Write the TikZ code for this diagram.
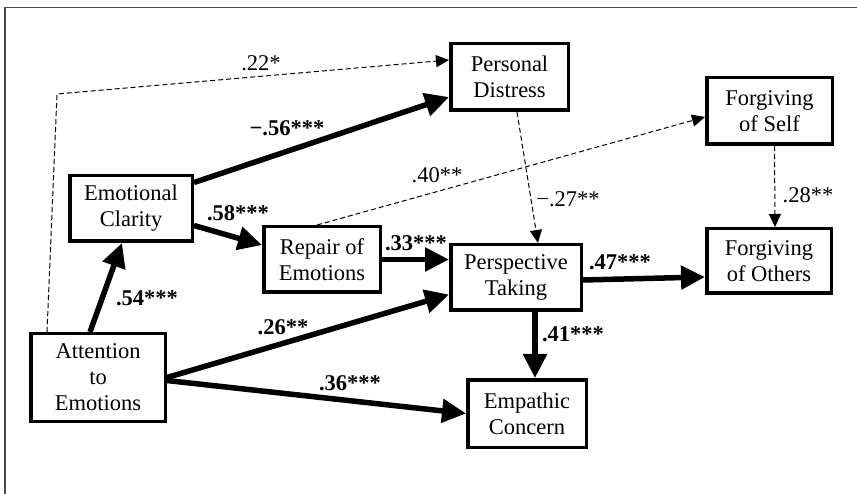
\documentclass[tikz,border=0pt]{standalone}
\usepackage{fontspec}
\setmainfont{Liberation Serif}
\usetikzlibrary{arrows.meta}

\begin{document}
\begin{tikzpicture}[x=1pt, y=-1pt,
  box/.style={draw, line width=3.5pt, align=center, inner sep=0pt,
    font=\fontsize{22.5}{26}\selectfont},
  strong/.style={line width=5.5pt, -{Triangle[length=24pt,width=23pt]}},
  weak/.style={line width=1pt, dash pattern=on 5pt off 3pt,
    -{Triangle[length=13pt,width=12pt]}},
  lbl/.style={inner sep=0pt, font=\fontsize{22.5}{26}\selectfont}]
  \useasboundingbox (0,0) rectangle (857,494);
  % frame, only top and left show
  \draw[line width=1.5pt, black!70] (857,7.5) -- (5,7.5) -- (5,494);

  \node[box, minimum width=117.5, minimum height=66.5] (pd) at (509.5,77) {Personal\\Distress};
  \node[box, minimum width=125.5, minimum height=66.5] (fs) at (769.5,111) {Forgiving\\of Self};
  \node[box, minimum width=122.5, minimum height=65.5] (cl) at (131,208.5) {Emotional\\Clarity};
  \node[box, minimum width=116.5, minimum height=65.5] (re) at (322,259.5) {Repair of\\Emotions};
  \node[box, minimum width=130.5, minimum height=65.5] (pt) at (516,277.5) {Perspective\\Taking};
  \node[box, minimum width=124.5, minimum height=64.5] (fo) at (769,261) {Forgiving\\of Others};
  \node[box, minimum width=134.5, minimum height=87.5] (at) at (98,377.5) {Attention\\to\\Emotions};
  \node[box, minimum width=118.5, minimum height=67.5] (ec) at (527,413.5) {Empathic\\Concern};
  \coordinate (bend) at (57,94);

  % dashed paths
  \draw[weak] ([xshift=-51pt]at.north) -- (bend) -- ([yshift=17pt]pd.west)
    node[lbl] at (261,63) {.22*};
  \draw[weak] ([xshift=-5pt]re.north) -- ([yshift=-6pt]fs.west)
    node[lbl] at (437,175) {.40**};
  \draw[weak] ([xshift=7.5pt]pd.south) -- ([xshift=22pt]pt.north)
    node[lbl] at (568,199) {−.27**};
  \draw[weak] ([xshift=5pt]fs.south) -- ([xshift=6pt]fo.north)
    node[lbl] at (808,195) {.28**};

  % strong paths
  \draw[strong] ([xshift=-8pt]at.north) -- ([xshift=-9pt]cl.south)
    node[lbl] at (147,298) {\textbf{.54***}};
  \draw[strong] ([yshift=26pt]cl.east) -- ([yshift=-20pt]pd.west)
    node[lbl] at (287,128) {\textbf{−.56***}};
  \draw[strong] ([yshift=-17pt]cl.east) -- ([yshift=14.5pt]re.west)
    node[lbl] at (238,213) {\textbf{.58***}};
  \draw[strong] (re.east) -- (re.east -| pt.west)
    node[lbl] at (416,243) {\textbf{.33***}};
  \draw[strong] (at.east) -- ([yshift=-17pt]pt.west)
    node[lbl] at (283,327) {\textbf{.26**}};
  \draw[strong] ([yshift=-3pt]at.east) -- (ec.west)
    node[lbl] at (350,383) {\textbf{.36***}};
  \draw[strong] ([yshift=-2.5pt]pt.east) -- ([yshift=-16pt]fo.west)
    node[lbl] at (620,262) {\textbf{.47***}};
  \draw[strong] ([xshift=19pt]pt.south) -- ([xshift=8pt]ec.north)
    node[lbl] at (573,334) {\textbf{.41***}};
\end{tikzpicture}
\end{document}
